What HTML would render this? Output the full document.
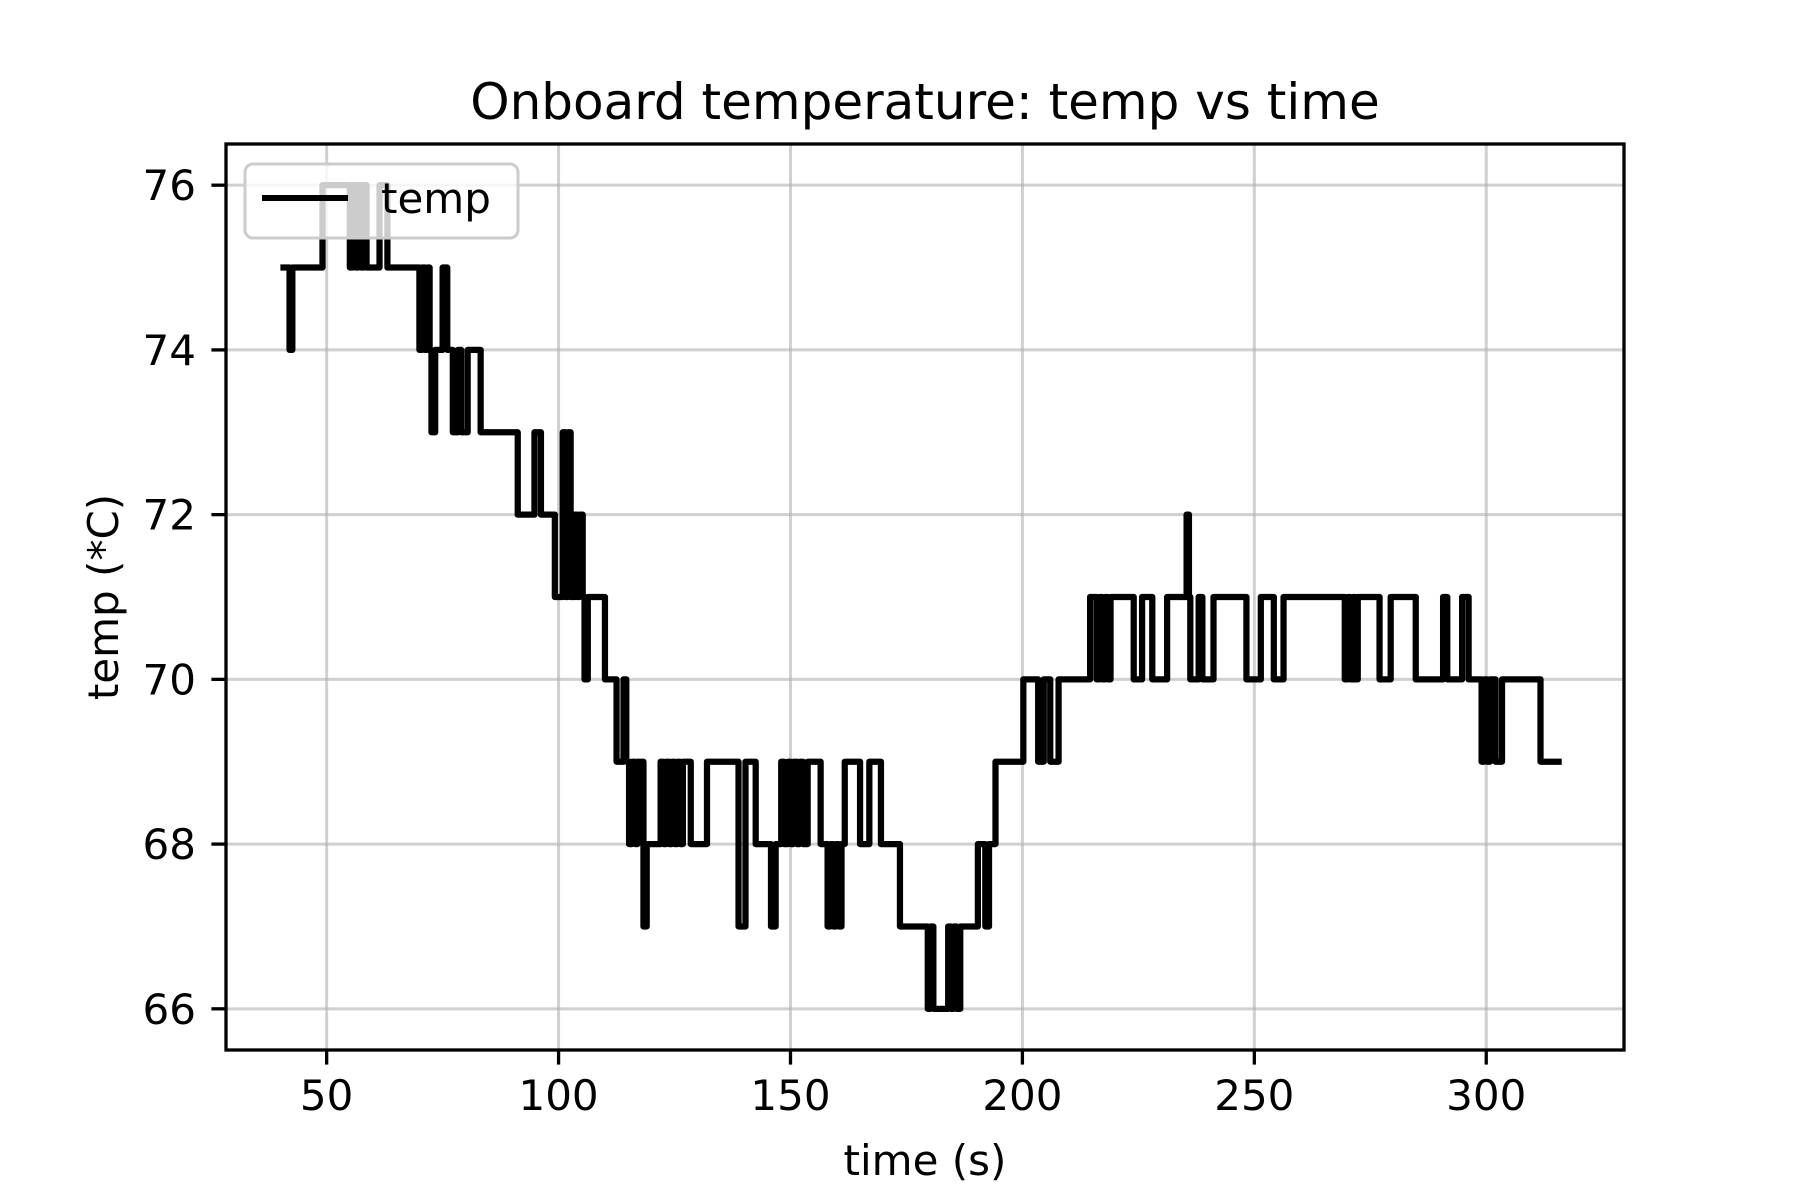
<!DOCTYPE html>
<html><head><meta charset="utf-8"><style>
html,body{margin:0;padding:0;background:#fff;}
svg{display:block;font-family:"DejaVu Sans","Liberation Sans",sans-serif;}
</style></head><body>
<svg id="chart" width="1800" height="1200" viewBox="0 0 1800 1200">
<rect x="0" y="0" width="1800" height="1200" fill="#fff"/>
<g id="grid"></g>
<g id="series"></g>
<rect x="226" y="144" width="1398" height="906" fill="none" stroke="#000" stroke-width="3.3"/>
<g id="ticks"></g>
<text x="925" y="119" font-size="50" text-anchor="middle">Onboard temperature: temp vs time</text>
<text x="925" y="1175" font-size="42" text-anchor="middle">time (s)</text>
<text x="0" y="0" font-size="42" text-anchor="middle" transform="translate(118,597) rotate(-90)">temp (*C)</text>
<g>
<rect x="245" y="164" width="273" height="74" rx="8" fill="#fff" fill-opacity="0.8" stroke="#ccc" stroke-width="3"/>
<line x1="262" y1="198" x2="348" y2="198" stroke="#000" stroke-width="6"/>
<text x="381" y="213" font-size="42">temp</text>
</g>
</svg>
<script>
const times = [40.7,42.0,42.6,49.1,55,55.6,56.2,56.8,57.4,58,58.6,59.5,61.4,63.1,70,70.6,71.2,71.8,72.2,72.6,73.4,75,76,77.2,78.3,79,80.4,83.2,91.2,94.8,96.2,99.2,100.9,101.5,102,102.6,103.5,104,104.5,105.2,105.6,106.3,110,112.5,114,114.6,115.2,115.8,116.5,117,118.3,119,122,122.6,123.2,123.8,124.4,125,125.6,126.2,126.8,128.5,132,138.8,140.3,142.5,145.8,146.8,148,148.6,149.4,150,150.6,151.4,152,152.7,153.7,156.5,158,158.6,159.2,159.8,160.4,161,161.7,165,167,169.5,173.6,179.6,180.2,180.8,181.4,184,184.6,185.2,185.8,186.6,190.4,192,192.8,194.2,200.2,203.4,204.6,206,207.8,214.6,216,216.6,217.2,217.8,218.4,219,224,225.8,228,231.2,235.4,235.9,236.2,238,238.8,241.2,248.3,251.4,254.2,256.3,269.5,270.1,270.7,271.3,271.8,272.3,277,279.4,284.8,290.7,291.6,294.8,296.2,299,299.6,300.2,300.8,302,303.4,311.7,315.6];
const temps = [75,74,75,76,75,76,75,76,75,76,75,75,76,75,74,75,74,75,74,73,74,75,74,73,74,73,74,73,72,73,72,71,73,71,73,71,72,71,72,71,70,71,70,69,70,69,68,69,68,69,67,68,69,68,69,68,69,68,69,68,69,68,69,67,69,68,67,68,69,68,69,68,69,68,69,68,69,68,67,68,67,68,67,68,69,68,69,68,67,66,67,66,66,67,66,67,66,67,68,67,68,69,70,69,70,69,70,71,70,71,70,71,70,71,70,71,70,71,72,71,70,71,70,71,70,71,70,71,70,71,70,71,70,71,70,71,70,71,70,71,70,69,70,69,70,69,70,69,69];
const xTicks = [50,100,150,200,250,300];
const yTicks = [66,68,70,72,74,76];
const X0=28.3, X1=329.7, Y0=65.5, Y1=76.5;
const L=226, R=1624, T=144, B=1050;
function xs(v){return L+(v-X0)/(X1-X0)*(R-L);}
function ys(v){return B-(v-Y0)/(Y1-Y0)*(B-T);}
const NS='http://www.w3.org/2000/svg';
const grid=document.getElementById('grid'), ticks=document.getElementById('ticks'), ser=document.getElementById('series');
function mk(tag,attrs,parent){const e=document.createElementNS(NS,tag);for(const k in attrs)e.setAttribute(k,attrs[k]);parent.appendChild(e);return e;}
xTicks.forEach(v=>{
  const x=xs(v);
  const g=mk('line',{x1:x,y1:T,x2:x,y2:B,stroke:'#b0b0b0','stroke-opacity':0.6,'stroke-width':3},grid);
  
  
  const t=mk('line',{x1:x,y1:B,x2:x,y2:B+14.6,stroke:'#000','stroke-width':3.3},ticks);
  
  
  const lb=mk('text',{x:x,y:1110,'font-size':42,'text-anchor':'middle'},ticks);
  lb.textContent=v;
  
  
});
yTicks.forEach(v=>{
  const y=ys(v);
  const g=mk('line',{x1:L,y1:y,x2:R,y2:y,stroke:'#b0b0b0','stroke-opacity':0.6,'stroke-width':3},grid);
  
  
  const t=mk('line',{x1:L-14.6,y1:y,x2:L,y2:y,stroke:'#000','stroke-width':3.3},ticks);
  
  
  const lb=mk('text',{x:196,y:y+15,'font-size':42,'text-anchor':'end'},ticks);
  lb.textContent=v;
  
  
});
let d='';
for(let i=0;i<times.length;i++){
  const x=xs(times[i]), y=ys(temps[i]);
  if(i===0) d+='M'+x+' '+y;
  else d+=' H'+x+' V'+y;
}
const p=mk('path',{d:d,fill:'none',stroke:'#000','stroke-width':6.25,'stroke-linejoin':'round','stroke-linecap':'square'},ser);


</script>
</body></html>
